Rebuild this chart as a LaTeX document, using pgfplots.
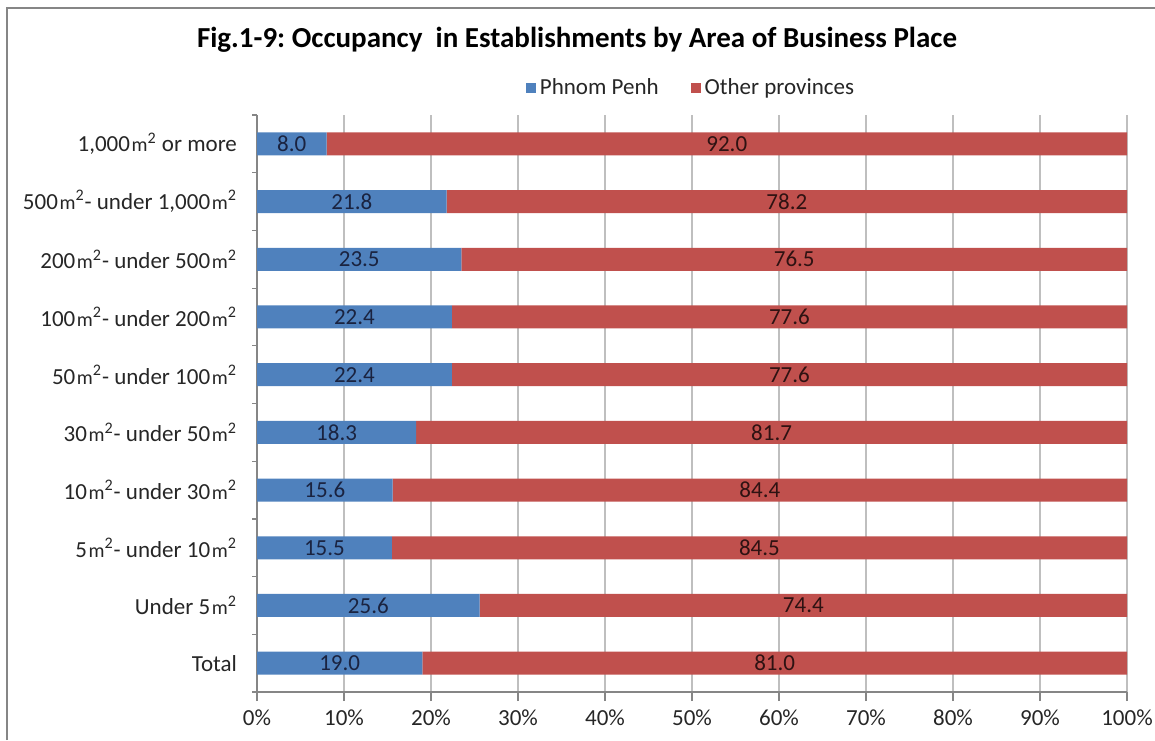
\documentclass[border=0pt]{standalone}
\usepackage{fontspec}
\setmainfont{Carlito}
\usepackage{pgfplots}
\pgfplotsset{compat=1.18}
\definecolor{ppblue}{HTML}{4F81BD}
\definecolor{opred}{HTML}{C0504D}
\definecolor{axgray}{HTML}{868686}
\definecolor{gridgray}{HTML}{BFBFBF}
\definecolor{bluelab}{HTML}{1A2340}
\definecolor{redlab}{HTML}{2E1212}
\newcommand{\msq}{\kern0.8pt{\fontsize{10}{12}\selectfont m}\textsuperscript{2}}
\frenchspacing
\begin{document}
\begin{tikzpicture}[x=0.5pt,y=0.5pt]% 1 px of the reference = 0.5pt
\path[use as bounding box] (0,0) rectangle (1155,740);
\draw[axgray, line width=1.2pt] (7,0) -- (7,732) -- (1155,732);
\node[font=\bfseries\fontsize{14.5}{17}\selectfont] at (577,700)
  {Fig.1-9: Occupancy~ in Establishments by Area of Business Place};

\pgfplotsset{
  base/.style={
    at={(128.5pt,24pt)}, anchor=south west,
    width=435pt, height=288.5pt, scale only axis,
    xmin=0, xmax=100, ymin=-0.5, ymax=9.5,
  }
}

\begin{axis}[
  base,
  xbar stacked, bar width=11.5pt,
  xtick={0,10,...,100},
  xticklabels={0\%,10\%,20\%,30\%,40\%,50\%,60\%,70\%,80\%,90\%,100\%},
  ytick={0,...,9},
  yticklabels={Total, Under 5\msq, 5\msq- under 10\msq, 10\msq- under 30\msq,
    30\msq- under 50\msq, 50\msq- under 100\msq, 100\msq- under 200\msq,
    200\msq- under 500\msq, {500\msq- under 1,000\msq}, {1,000\msq{} or more}},
  minor ytick={-0.5,0.5,...,9.5},
  axis x line*=bottom, axis y line*=left,
  axis line style={axgray, line width=0.6pt},
  tick align=outside,
  major tick length=4.5pt, minor tick length=2.5pt,
  major y tick style={draw=none},
  minor tick style={axgray, line width=0.6pt},
  major x tick style={axgray, line width=0.6pt},
  xmajorgrids, grid style={gridgray, line width=0.6pt},
  tick label style={font=\fontsize{11.5}{14}\selectfont, text=black!85},
  xticklabel style={yshift=-1pt},
  yticklabel style={xshift=-2pt},
  legend style={at={(0.5,1)}, anchor=center, yshift=13.5pt, draw=none,
    font=\fontsize{11.5}{14}\selectfont, text=black!85,
    legend columns=2,
    /tikz/every even column/.append style={column sep=14pt}},
  legend image code/.code={\fill[#1] (0pt,-2.5pt) rectangle (5pt,2.5pt);},
]
\addplot[fill=ppblue, draw=none] coordinates {
  (19.0,0) (25.6,1) (15.5,2) (15.6,3) (18.3,4)
  (22.4,5) (22.4,6) (23.5,7) (21.8,8) (8.0,9)};
\addplot[fill=opred, draw=none] coordinates {
  (81.0,0) (74.4,1) (84.5,2) (84.4,3) (81.7,4)
  (77.6,5) (77.6,6) (76.5,7) (78.2,8) (92.0,9)};
\legend{Phnom Penh, Other provinces}
\end{axis}

% value labels, at the middle of each segment
\begin{axis}[base, hide axis]
\addplot[only marks, mark=none, point meta=explicit symbolic,
  nodes near coords, nodes near coords style={anchor=center,
    font=\fontsize{11.5}{14}\selectfont, text=bluelab}] coordinates {
  (9.5,0) [19.0] (12.8,1) [25.6] (7.75,2) [15.5] (7.8,3) [15.6] (9.15,4) [18.3]
  (11.2,5) [22.4] (11.2,6) [22.4] (11.75,7) [23.5] (10.9,8) [21.8] (4.0,9) [8.0]};
\addplot[only marks, mark=none, point meta=explicit symbolic,
  nodes near coords, nodes near coords style={anchor=center,
    font=\fontsize{11.5}{14}\selectfont, text=redlab}] coordinates {
  (59.5,0) [81.0] (62.8,1) [74.4] (57.75,2) [84.5] (57.8,3) [84.4] (59.15,4) [81.7]
  (61.2,5) [77.6] (61.2,6) [77.6] (61.75,7) [76.5] (60.9,8) [78.2] (54.0,9) [92.0]};
\end{axis}
\end{tikzpicture}
\end{document}
